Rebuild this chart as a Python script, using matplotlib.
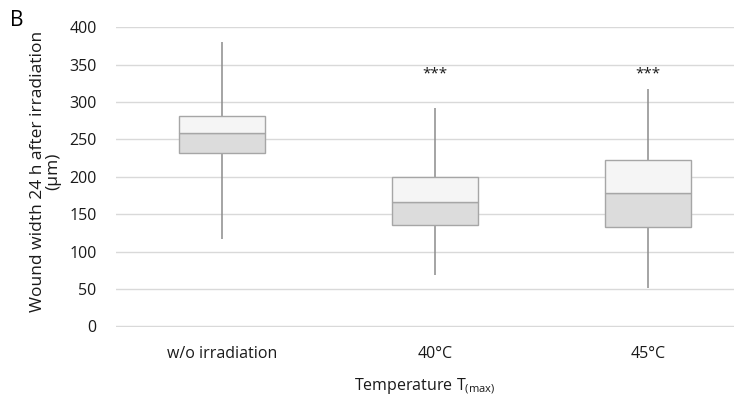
import matplotlib
matplotlib.use('Agg')
import matplotlib.pyplot as plt

plt.rcParams['font.family'] = ['Open Sans', 'DejaVu Sans']
plt.rcParams['mathtext.fontset'] = 'custom'
plt.rcParams['mathtext.rm'] = 'Open Sans'

# Box plot summary values (µm)
groups = ['w/o irradiation', '40°C', '45°C']
whisk_lo = [117, 69, 51]
q1 = [232, 136, 133]
median = [259, 166, 178]
q3 = [281, 200, 222]
whisk_hi = [380, 292, 317]
signif = ['', '***', '***']
sig_y = 337

EDGE = '#a6a6a6'
LOWER = '#dcdcdc'
UPPER = '#f5f5f5'
WHISK = '#8c8c8c'
TXT = '#1a1a1a'

fig = plt.figure(figsize=(7.34, 3.96), dpi=100)
ax = fig.add_axes([116 / 734, 69 / 396, 618 / 734, 300 / 396])

pos = list(range(len(groups)))
w = 0.4

ax.vlines(pos, whisk_lo, q1, color=WHISK, lw=1.1, zorder=2)
ax.vlines(pos, q3, whisk_hi, color=WHISK, lw=1.1, zorder=2)

lower_h = [m - a for m, a in zip(median, q1)]
upper_h = [b - m for b, m in zip(q3, median)]
ax.bar(pos, lower_h, bottom=q1, width=w, color=LOWER, edgecolor=EDGE,
       lw=1.0, zorder=3)
ax.bar(pos, upper_h, bottom=median, width=w, color=UPPER, edgecolor=EDGE,
       lw=1.0, zorder=3)

for x, s in zip(pos, signif):
    if s:
        ax.text(x, sig_y, s, ha='center', va='center', fontsize=11, color=TXT)

ax.set_ylim(-1, 400.5)
ax.set_xlim(-0.498, 2.404)
ax.set_yticks(range(0, 401, 50))
ax.set_xticks(pos)
ax.set_xticklabels(groups)
ax.yaxis.grid(True, color='#d9d9d9', lw=1.0, zorder=0)
ax.set_axisbelow(True)
for sp in ax.spines.values():
    sp.set_visible(False)
ax.tick_params(axis='both', length=0, labelsize=11.5, colors=TXT)
ax.tick_params(axis='x', pad=14)
ax.tick_params(axis='y', pad=14)

ax.set_ylabel('Wound width 24 h after irradiation\n(µm)', fontsize=12.5,
              color=TXT, linespacing=1.0)
ax.yaxis.set_label_coords(-0.088, 0.52)
ax.set_xlabel(r'Temperature T$_{\mathregular{(max)}}$', fontsize=11.5,
              color=TXT, labelpad=10)

fig.text(10 / 734, 1 - 20 / 396, 'B', fontsize=15, va='center', ha='left')

fig.savefig('out.png', dpi=100)
plt.close()
